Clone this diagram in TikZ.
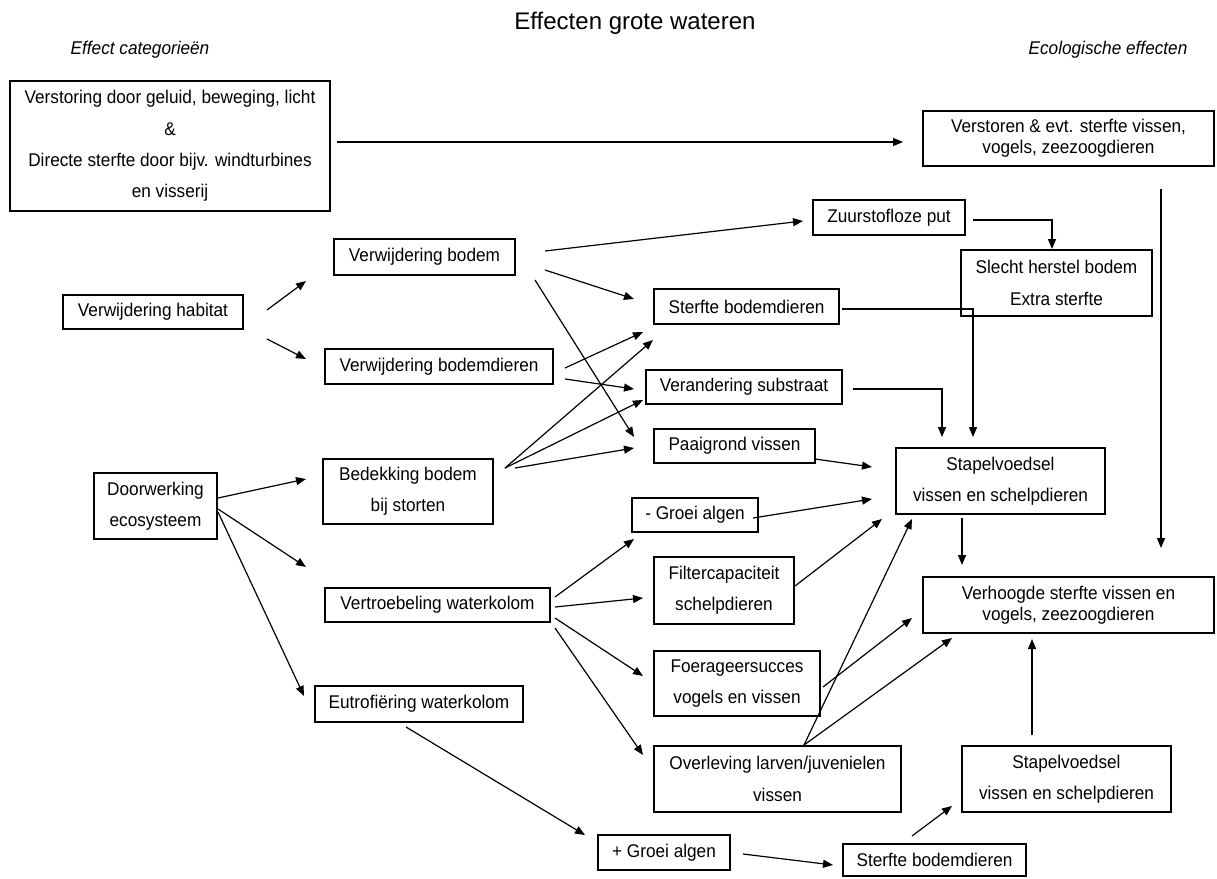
\documentclass[tikz,border=0pt]{standalone}
\usepackage{fontspec}
\setmainfont{Liberation Sans}[FakeStretch=0.935]
\newfontfamily\titlefont{Liberation Sans}
\usetikzlibrary{arrows.meta}
\tikzset{
  bx/.style={draw=black, line width=0.9pt, inner sep=0pt, align=center, font=\fontsize{13.8}{23.6}\selectfont},
  bxt/.style={bx, font=\fontsize{13.8}{15.4}\selectfont},
  arr/.style={line width=0.9pt, -{Triangle[length=7.5pt,width=6pt]}},
  lbl/.style={inner sep=0pt, font=\fontsize{13.8}{16}\selectfont\itshape}
}
\begin{document}
\begin{tikzpicture}[x=0.75pt,y=-0.75pt]
\useasboundingbox (0,0) rectangle (1217,878);
\fill[white] (0,0) rectangle (1217,878);

% titles
\node[inner sep=0pt, font=\titlefont\fontsize{18}{20}\selectfont] (title) at (635,23) {Effecten grote wateren};
\node[lbl] (lblL) at (140,50) {Effect categorieën};
\node[lbl] (lblR) at (1108,50) {Ecologische effecten};

% boxes
\node[bx, minimum width=240pt, minimum height=97.5pt] (A) at (170,146) {Verstoring door geluid, beweging, licht\\ \&\\ Directe sterfte door bijv. windturbines\\ en visserij};
\node[bxt, minimum width=218.25pt, minimum height=41.25pt] (B) at (1068.5,138.5) {Verstoren \& evt. sterfte vissen,\\ vogels, zeezoogdieren};
\node[bx, minimum width=135.75pt, minimum height=27pt] (vb) at (424.5,257) {Verwijdering bodem};
\node[bx, minimum width=135pt, minimum height=25.5pt] (vh) at (153,312) {Verwijdering habitat};
\node[bx, minimum width=171pt, minimum height=26.25pt] (vbd) at (439,366.5) {Verwijdering bodemdieren};
\node[bx, minimum width=127.5pt, minimum height=48.75pt] (bed) at (408,491.5) {Bedekking bodem\\ bij storten};
\node[bx, minimum width=92.25pt, minimum height=49.5pt] (door) at (155.5,506) {Doorwerking\\ ecosysteem};
\node[bx, minimum width=168.75pt, minimum height=25.5pt] (vtr) at (437.5,605) {Vertroebeling waterkolom};
\node[bx, minimum width=156pt, minimum height=27pt] (eut) at (419,704) {Eutrofiëring waterkolom};
\node[bx, minimum width=114pt, minimum height=26.25pt] (zuur) at (889,217.5) {Zuurstofloze put};
\node[bx, minimum width=143.25pt, minimum height=49.5pt] (sle) at (1056.5,283) {Slecht herstel bodem\\ Extra sterfte};
\node[bx, minimum width=138.75pt, minimum height=26.25pt] (stb1) at (746.5,306.5) {Sterfte bodemdieren};
\node[bx, minimum width=147pt, minimum height=25.5pt] (ver) at (744,387) {Verandering substraat};
\node[bx, minimum width=120.75pt, minimum height=25.5pt] (paai) at (734.5,446) {Paaigrond vissen};
\node[bx, minimum width=94.5pt, minimum height=25.5pt] (gm) at (695,515) {- Groei algen};
\node[bx, minimum width=105pt, minimum height=50.25pt] (fil) at (724,590.5) {Filtercapaciteit\\ schelpdieren};
\node[bx, minimum width=124.5pt, minimum height=48.75pt] (foe) at (737,683.5) {Foerageersucces\\ vogels en vissen};
\node[bx, minimum width=185.25pt, minimum height=49.5pt] (ovl) at (777.5,779) {Overleving larven/juvenielen\\ vissen};
\node[bx, minimum width=99pt, minimum height=26.25pt] (gp) at (664,852.5) {+ Groei algen};
\node[bx, minimum width=137.25pt, minimum height=24pt] (stb2) at (934.5,860) {Sterfte bodemdieren};
\node[bx, minimum width=156.75pt, minimum height=49.5pt] (sv1) at (1000.5,481) {Stapelvoedsel\\ vissen en schelpdieren};
\node[bxt, minimum width=218.25pt, minimum height=42pt] (verh) at (1068.5,605) {Verhoogde sterfte vissen en\\ vogels, zeezoogdieren};
\node[bx, minimum width=156.75pt, minimum height=49.5pt] (sv2) at (1066.5,779) {Stapelvoedsel\\ vissen en schelpdieren};

% connector end points
\coordinate (a1s) at (337,142);  \coordinate (a1e) at (903,142);
\coordinate (a2s) at (267,310);  \coordinate (a2e) at (306,281);
\coordinate (a3s) at (267,339);  \coordinate (a3e) at (306,359);
\coordinate (a4s) at (545,251);  \coordinate (a4e) at (803,221);
\coordinate (a5s) at (545,270);  \coordinate (a5e) at (634,299);
\coordinate (a6s) at (535,280);  \coordinate (a6e) at (634,437);
\coordinate (a7s) at (565,368);  \coordinate (a7e) at (643,332);
\coordinate (a8s) at (565,379);  \coordinate (a8e) at (634,389);
\coordinate (a9s) at (505,468);  \coordinate (a9e) at (653,340);
\coordinate (a10e) at (643,400);
\coordinate (a11s) at (515,468); \coordinate (a11e) at (634,448);
\coordinate (a12s) at (218,498); \coordinate (a12e) at (306,479);
\coordinate (a13s) at (218,509); \coordinate (a13e) at (306,567);
\coordinate (a14s) at (218,512); \coordinate (a14e) at (304,696);
\coordinate (a15s) at (555,597); \coordinate (a15e) at (634,539);
\coordinate (a16s) at (555,607); \coordinate (a16e) at (643,598);
\coordinate (a17s) at (555,618); \coordinate (a17e) at (643,676);
\coordinate (a18s) at (555,628); \coordinate (a18e) at (643,755);
\coordinate (a19s) at (406,727); \coordinate (a19e) at (585,835);
\coordinate (a20s) at (743,854); \coordinate (a20e) at (833,865);
\coordinate (a21s) at (912,836); \coordinate (a21e) at (952,806);
\coordinate (a22s) at (1032,735); \coordinate (a22e) at (1032,639);
\coordinate (a23s) at (973,220); \coordinate (a23e) at (1052,249);
\coordinate (a24s) at (842,309); \coordinate (a24e) at (973,437);
\coordinate (a25s) at (853,389); \coordinate (a25e) at (942,437);
\coordinate (a26s) at (815,459); \coordinate (a26e) at (872,467);
\coordinate (a27s) at (753,518); \coordinate (a27e) at (872,499);
\coordinate (a28s) at (795,586); \coordinate (a28e) at (882,519);
\coordinate (a29s) at (804,745); \coordinate (a29e) at (912,519);
\coordinate (a30e) at (952,638);
\coordinate (a31s) at (823,687); \coordinate (a31e) at (912,618);
\coordinate (a32s) at (962,518); \coordinate (a32e) at (962,565);
\coordinate (a33s) at (1161,189); \coordinate (a33e) at (1161,548);

% connectors
\draw[arr] (a1s) -- (a1e);
\draw[arr] (a2s) -- (a2e);
\draw[arr] (a3s) -- (a3e);
\draw[arr] (a4s) -- (a4e);
\draw[arr] (a5s) -- (a5e);
\draw[arr] (a6s) -- (a6e);
\draw[arr] (a7s) -- (a7e);
\draw[arr] (a8s) -- (a8e);
\draw[arr] (a9s) -- (a9e);
\draw[arr] (a9s) -- (a10e);
\draw[arr] (a11s) -- (a11e);
\draw[arr] (a12s) -- (a12e);
\draw[arr] (a13s) -- (a13e);
\draw[arr] (a14s) -- (a14e);
\draw[arr] (a15s) -- (a15e);
\draw[arr] (a16s) -- (a16e);
\draw[arr] (a17s) -- (a17e);
\draw[arr] (a18s) -- (a18e);
\draw[arr] (a19s) -- (a19e);
\draw[arr] (a20s) -- (a20e);
\draw[arr] (a21s) -- (a21e);
\draw[arr] (a22s) -- (a22e);
\draw[arr] (a23s) -| (a23e);
\draw[arr] (a24s) -| (a24e);
\draw[arr] (a25s) -| (a25e);
\draw[arr] (a26s) -- (a26e);
\draw[arr] (a27s) -- (a27e);
\draw[arr] (a28s) -- (a28e);
\draw[arr] (a29s) -- (a29e);
\draw[arr] (a29s) -- (a30e);
\draw[arr] (a31s) -- (a31e);
\draw[arr] (a32s) -- (a32e);
\draw[arr] (a33s) -- (a33e);
\end{tikzpicture}
\end{document}
